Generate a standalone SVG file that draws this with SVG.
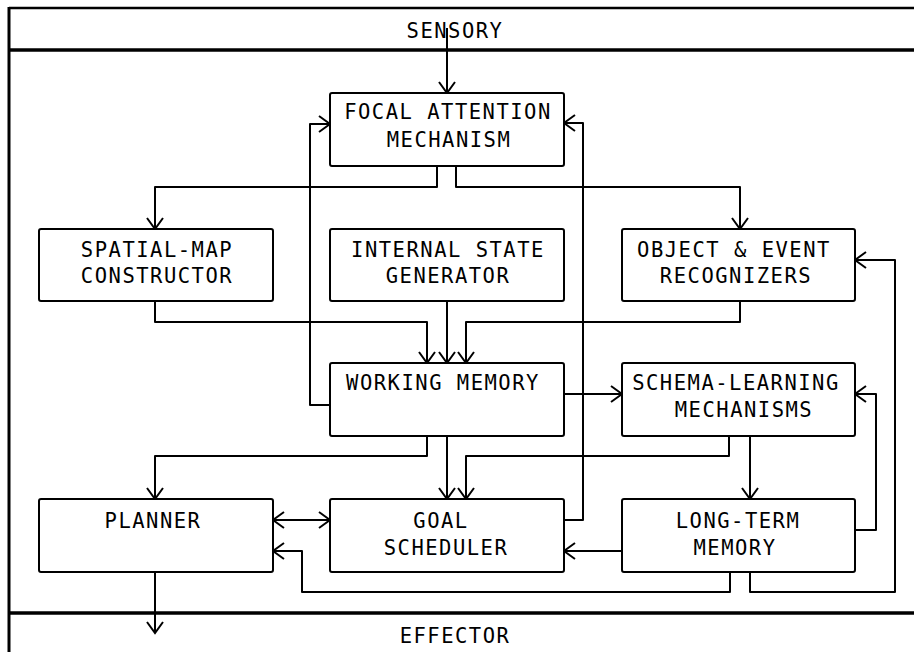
<svg xmlns="http://www.w3.org/2000/svg" width="914" height="652" viewBox="0 0 914 652">
<style>
.box{fill:#fff;stroke:#000;stroke-width:2}
.t{font-family:"DejaVu Sans Mono","Liberation Mono",monospace;font-size:20.5px;letter-spacing:1.5px;text-anchor:middle;fill:#000}
.c{fill:none;stroke:#000;stroke-width:2;stroke-linejoin:round}
.frame{stroke:#000;fill:none}
</style>
<defs>
<marker id="a" markerUnits="userSpaceOnUse" markerWidth="24" markerHeight="24" refX="0" refY="0" viewBox="-12 -12 24 24" orient="auto-start-reverse" overflow="visible">
<path d="M-11,-8 L0,0 L-11,8" fill="none" stroke="#000" stroke-width="2"/>
</marker>
</defs>
<rect width="914" height="652" fill="#fff"/>
<g id="frame">
<line class="frame" x1="9" y1="8" x2="914" y2="8" stroke-width="2.5"/>
<line class="frame" x1="9" y1="50" x2="914" y2="50" stroke-width="3.5"/>
<line class="frame" x1="9" y1="613" x2="914" y2="613" stroke-width="3.5"/>
<line class="frame" x1="9" y1="7" x2="9" y2="652" stroke-width="3"/>
</g>
<g id="sensory"><text class="t" x="455" y="38">SENSORY</text></g>
<g id="effector"><text class="t" x="455" y="643">EFFECTOR</text></g>
<g id="connectors">
<polyline class="c" points="447,28 447,93" marker-end="url(#a)"/>
<polyline class="c" points="437,166 437,187 155,187 155,229" marker-end="url(#a)"/>
<polyline class="c" points="456,166 456,187 740,187 740,229" marker-end="url(#a)"/>
<polyline class="c" points="330,405 310,405 310,124 330,124" marker-end="url(#a)"/>
<polyline class="c" points="564,520 583,520 583,123 564,123" marker-end="url(#a)"/>
<polyline class="c" points="155,301 155,322 427,322 427,363" marker-end="url(#a)"/>
<polyline class="c" points="447,301 447,363" marker-end="url(#a)"/>
<polyline class="c" points="740,301 740,322 466,322 466,363" marker-end="url(#a)"/>
<polyline class="c" points="564,394 622,394" marker-end="url(#a)"/>
<polyline class="c" points="427,436 427,456 155,456 155,499" marker-end="url(#a)"/>
<polyline class="c" points="447,436 447,499" marker-end="url(#a)"/>
<polyline class="c" points="729,436 729,456 466,456 466,499" marker-end="url(#a)"/>
<polyline class="c" points="750,436 750,499" marker-end="url(#a)"/>
<polyline class="c" points="855,530 876,530 876,394 855,394" marker-end="url(#a)"/>
<polyline class="c" points="750,572 750,592 895,592 895,260 855,260" marker-end="url(#a)"/>
<polyline class="c" points="622,551 564,551" marker-end="url(#a)"/>
<polyline class="c" points="730,572 730,592 302,592 302,551 273,551" marker-end="url(#a)"/>
<polyline class="c" points="273,520 330,520" marker-start="url(#a)" marker-end="url(#a)"/>
<polyline class="c" points="155,572 155,633" marker-end="url(#a)"/>
</g>
<g id="focal"><rect class="box" x="330" y="93" width="234" height="73" rx="2"/><text class="t" x="448" y="119">FOCAL ATTENTION</text><text class="t" x="449" y="147">MECHANISM</text></g>
<g id="spatial"><rect class="box" x="39" y="229" width="234" height="72" rx="2"/><text class="t" x="157" y="257">SPATIAL-MAP</text><text class="t" x="157" y="283">CONSTRUCTOR</text></g>
<g id="internal"><rect class="box" x="330" y="229" width="234" height="72" rx="2"/><text class="t" x="448" y="257">INTERNAL STATE</text><text class="t" x="448" y="283">GENERATOR</text></g>
<g id="object"><rect class="box" x="622" y="229" width="233" height="72" rx="2"/><text class="t" x="734" y="257">OBJECT &amp; EVENT</text><text class="t" x="736" y="283">RECOGNIZERS</text></g>
<g id="working"><rect class="box" x="330" y="363" width="234" height="73" rx="2"/><text class="t" x="443" y="390">WORKING MEMORY</text></g>
<g id="schema"><rect class="box" x="622" y="363" width="233" height="73" rx="2"/><text class="t" x="736" y="390">SCHEMA-LEARNING</text><text class="t" x="744" y="417">MECHANISMS</text></g>
<g id="planner"><rect class="box" x="39" y="499" width="234" height="73" rx="2"/><text class="t" x="153" y="528">PLANNER</text></g>
<g id="goal"><rect class="box" x="330" y="499" width="234" height="73" rx="2"/><text class="t" x="441" y="528">GOAL</text><text class="t" x="446" y="555">SCHEDULER</text></g>
<g id="ltm"><rect class="box" x="622" y="499" width="233" height="73" rx="2"/><text class="t" x="738" y="528">LONG-TERM</text><text class="t" x="735" y="555">MEMORY</text></g>
</svg>
